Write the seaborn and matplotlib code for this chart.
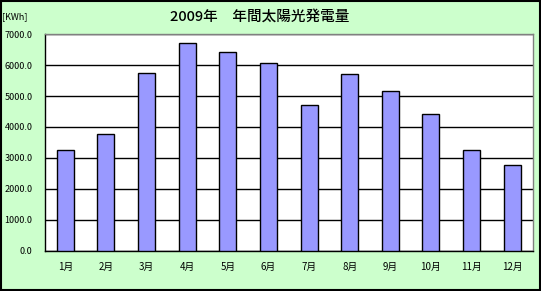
import matplotlib
matplotlib.use("Agg")
import matplotlib.pyplot as plt
import seaborn as sns
import numpy as np
from matplotlib.patches import Rectangle
from matplotlib.ticker import FixedLocator, FormatStrFormatter

months = ["1月", "2月", "3月", "4月", "5月", "6月", "7月", "8月", "9月", "10月", "11月", "12月"]
values = [3240, 3760, 5735, 6705, 6414, 6058, 4699, 5712, 5152, 4408, 3243, 2757]
yticks = [0, 1000, 2000, 3000, 4000, 5000, 6000, 7000]
title = "2009年　年間太陽光発電量"
unit = "[KWh]"

sns.set_style("white")
plt.rcParams['font.family'] = ['Noto Sans CJK JP', 'DejaVu Sans']

fig = plt.figure(figsize=(5.41, 2.91), dpi=100)
fig.patch.set_facecolor("#CCFFCC")
ax = fig.add_axes([45/541, 1 - 250.5/291, (532.5-45)/541, (250.5-34.3)/291])
ax.set_facecolor("white")

sns.barplot(x=months, y=values, color="#9999FF", saturation=1, edgecolor="black",
            linewidth=1, width=0.42, ax=ax, zorder=3)

ax.set_xlim(-0.5, len(months) - 0.5)
ax.set_ylim(0, 7000)
ax.set_yticks(yticks)
ax.yaxis.set_major_formatter(FormatStrFormatter("%.1f"))
ax.yaxis.grid(True, color="black", lw=1)
ax.set_axisbelow(True)
ax.set_xlabel("")
ax.set_ylabel("")

ax.xaxis.set_minor_locator(FixedLocator(np.arange(-0.5, len(months), 1.0)))
ax.tick_params(axis="x", which="major", length=0, pad=8, labelsize=7, labelcolor="black")
ax.tick_params(axis="x", which="minor", length=3, direction="in", width=1, color="black")
ax.tick_params(axis="y", which="major", length=4, direction="in", width=1, color="black", pad=9,
               labelsize=6.5, labelcolor="black")

for s in ["left", "bottom"]:
    ax.spines[s].set_color("black")
    ax.spines[s].set_linewidth(1)
    ax.spines[s].set_visible(True)
for s in ["top", "right"]:
    ax.spines[s].set_color("#808080")
    ax.spines[s].set_linewidth(1)
    ax.spines[s].set_visible(True)

fig.text(260/541, 1 - 17/291, title, ha="center", va="center", fontsize=10.5,
         fontweight="medium", color="black")
fig.text(2/541, 1 - 17/291, unit, ha="left", va="center", fontsize=6.5, color="black")

fig.patches.append(Rectangle((0.0015, 0.002), 0.997, 0.996, transform=fig.transFigure,
                             fill=False, edgecolor="black", linewidth=1.5))

fig.savefig("out.png", dpi=100, facecolor=fig.get_facecolor())
